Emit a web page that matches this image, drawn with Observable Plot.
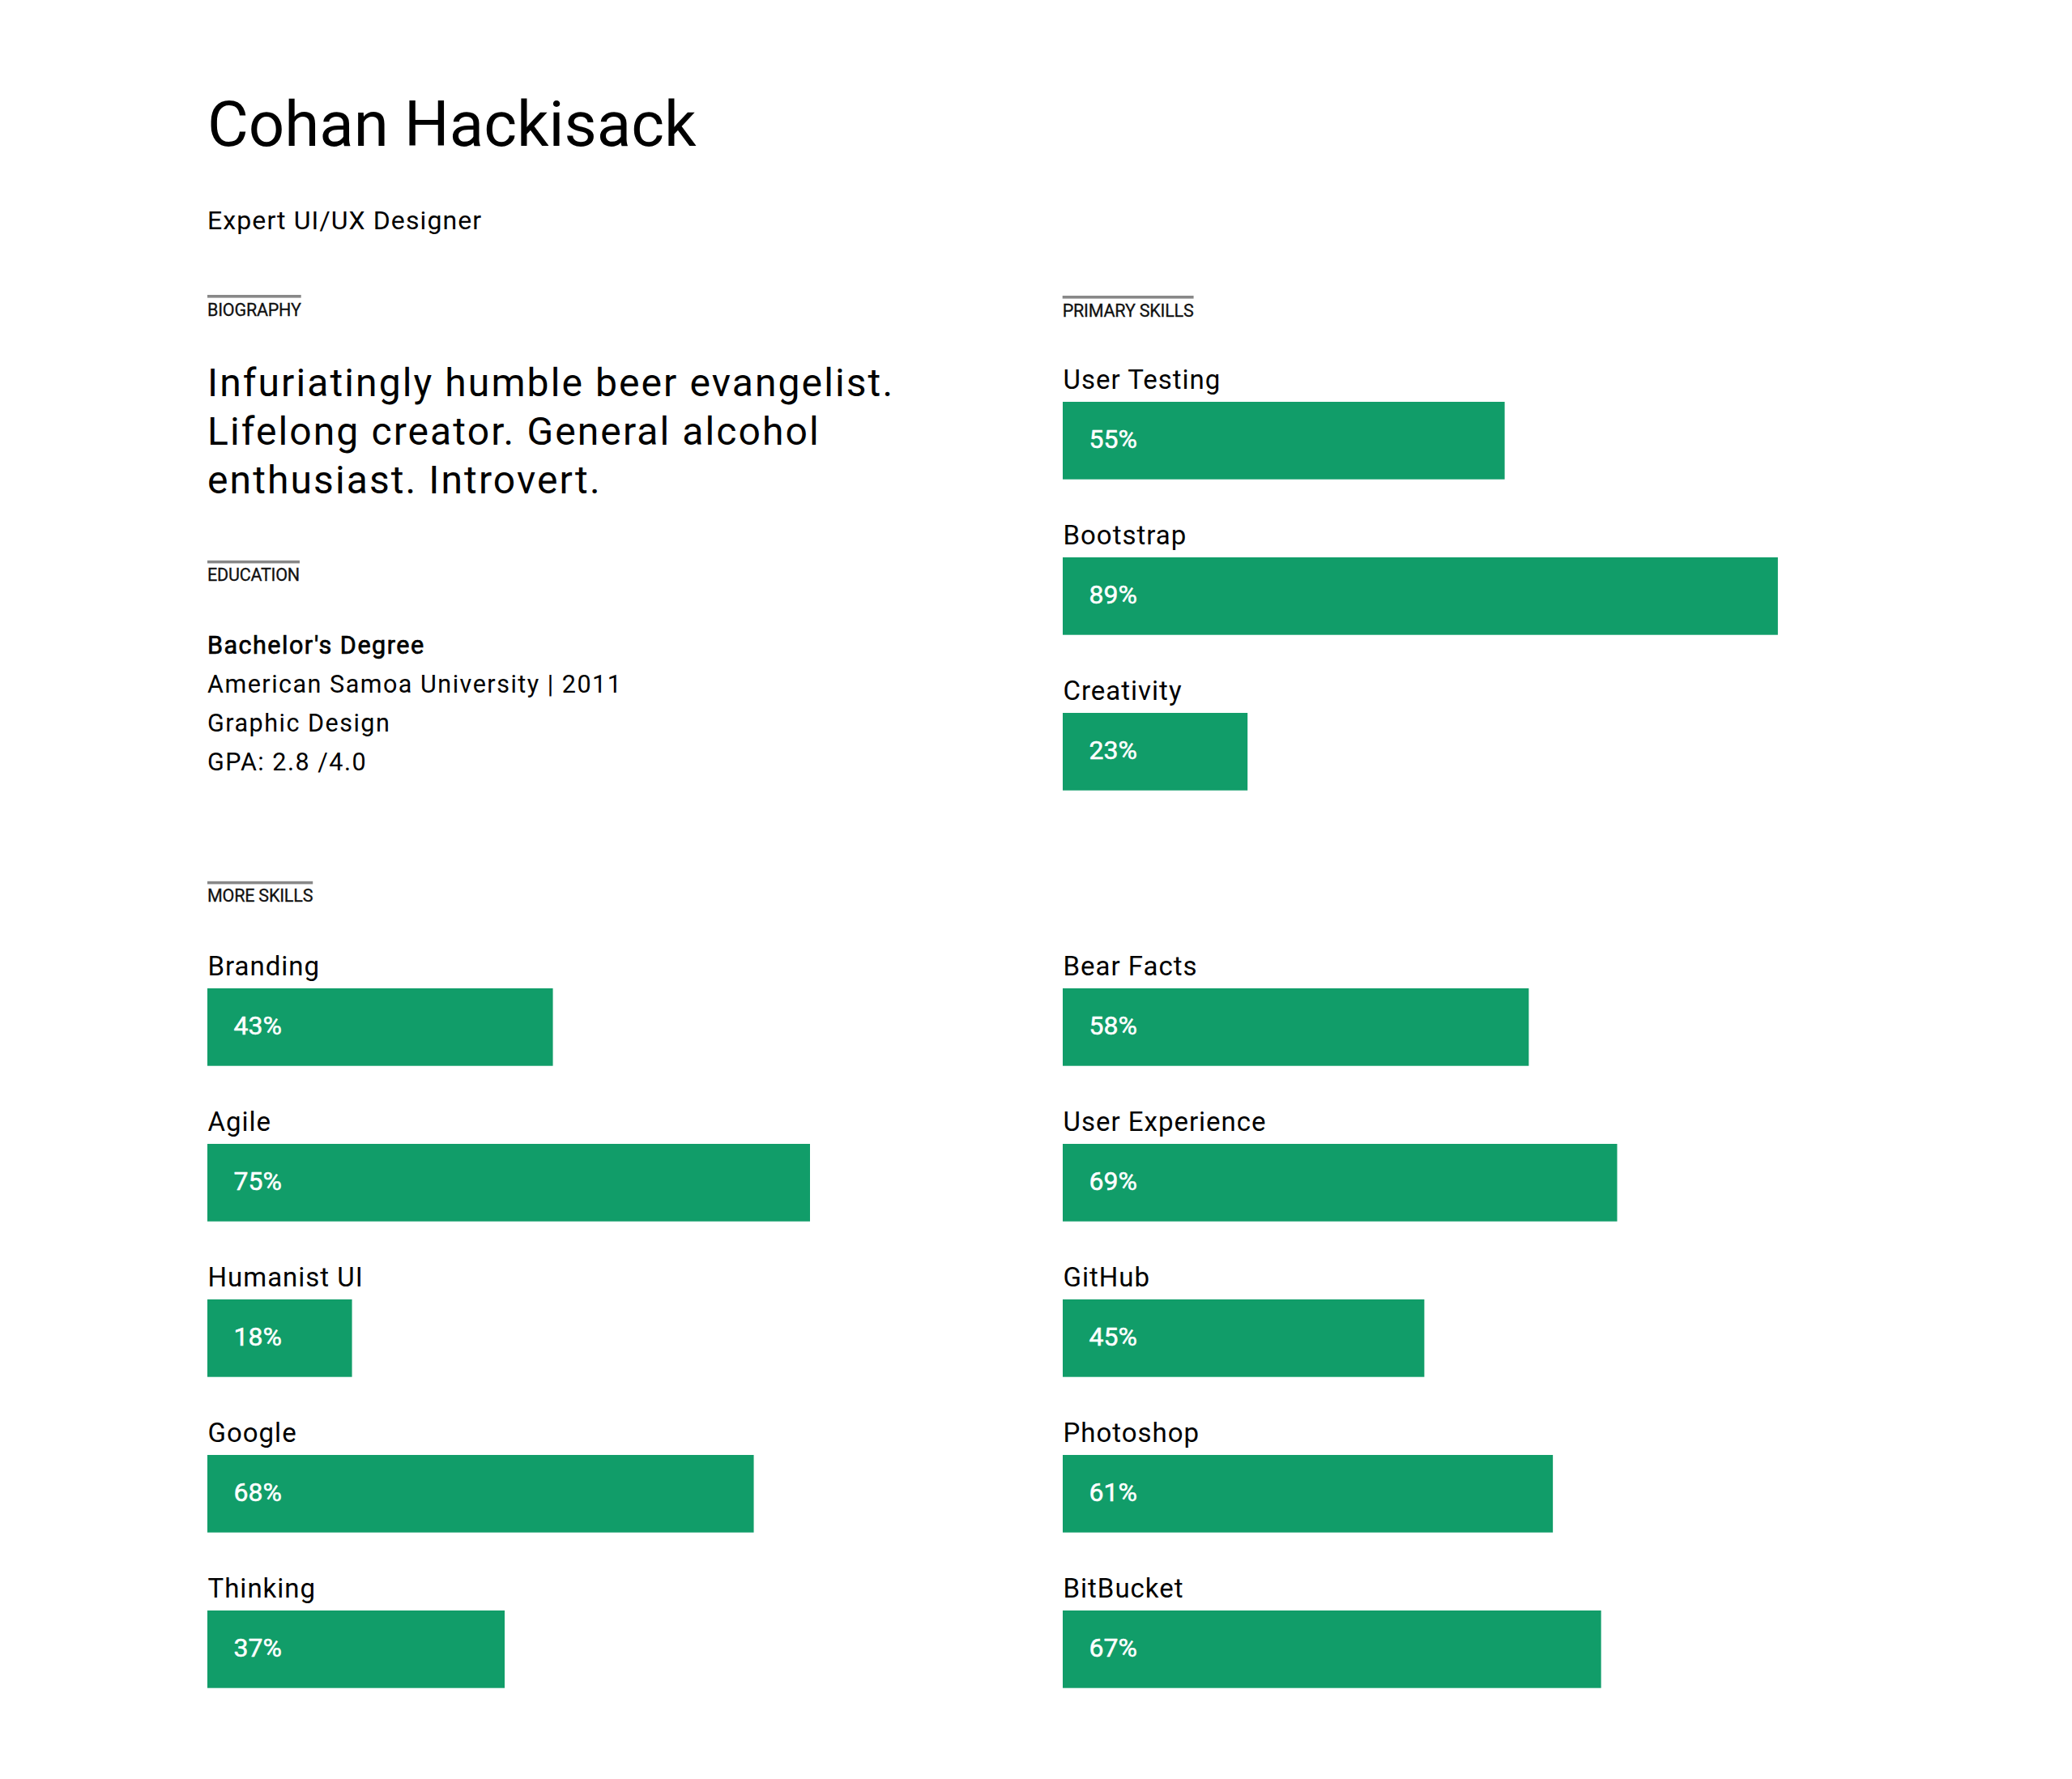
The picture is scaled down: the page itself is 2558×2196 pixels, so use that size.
<!DOCTYPE html>
<html>
<head>
<meta charset="utf-8">
<script src="https://cdn.jsdelivr.net/npm/d3@7"></script>
<script src="https://cdn.jsdelivr.net/npm/@observablehq/plot@0.6"></script>
<style>
  html, body { margin: 0; padding: 0; background: #fff; }
  body { width: 2558px; height: 2196px; position: relative; overflow: hidden;
         font-family: Roboto, "Noto Sans", sans-serif; color: #000; }
  #static { position: absolute; left: 0; top: 0; }
  .chart { position: absolute; width: 992px; }
  .chart svg { display: block; overflow: visible; }
</style>
</head>
<body>
<svg id="static" width="2558" height="1130" xmlns="http://www.w3.org/2000/svg"></svg>
<div class="chart" id="primary" style="left:1311.7px; top:440px;"></div>
<div class="chart" id="moreLeft" style="left:256px; top:1160px;"></div>
<div class="chart" id="moreRight" style="left:1311.7px; top:1160px;"></div>
<script>
// ---- data ----
const name = "Cohan Hackisack";
const role = "Expert UI/UX Designer";
const sectionTitles = ["BIOGRAPHY", "PRIMARY SKILLS", "EDUCATION", "MORE SKILLS"];
const bioLines = ["Infuriatingly humble beer evangelist.", "Lifelong creator. General alcohol", "enthusiast. Introvert."];
const educationLines = ["Bachelor's Degree", "American Samoa University | 2011", "Graphic Design", "GPA: 2.8 /4.0"];

const primarySkills = ["User Testing", "Bootstrap", "Creativity"];
const primaryValues = [55, 89, 23];
const moreSkillsLeft = ["Branding", "Agile", "Humanist UI", "Google", "Thinking"];
const moreValuesLeft = [43, 75, 18, 68, 37];
const moreSkillsRight = ["Bear Facts", "User Experience", "GitHub", "Photoshop", "BitBucket"];
const moreValuesRight = [58, 69, 45, 61, 67];

const GREEN = "#119d69";
const FONT = "Roboto, 'Noto Sans', sans-serif";

// ---- static text (header, biography, education) ----
const svg = d3.select("#static");
function txt(x, y, s, size, opts = {}) {
  const t = svg.append("text")
    .attr("x", x).attr("y", y)
    .attr("font-family", FONT)
    .attr("font-size", size)
    .attr("font-weight", opts.weight || 400)
    .attr("letter-spacing", opts.ls || 0)
    .attr("fill", opts.fill || "#000")
    .text(s);
  if (opts.stroke) t.attr("stroke", opts.fill || "#000").attr("stroke-width", opts.stroke);
  return t;
}
txt(256, 179.5, name, 78, {ls: 0});
txt(256, 283.3, role, 32, {ls: 1.1});

function heading(x, baseline, s) {
  const t = txt(x, baseline, s, 21.5, {fill: "#111", ls: -0.2, stroke: 0.3});
  const w = t.node().getComputedTextLength();
  svg.append("rect").attr("x", x).attr("y", baseline - 25.5)
    .attr("width", w).attr("height", 3.6).attr("fill", "#888");
}
heading(256, 389.5, sectionTitles[0]);
heading(1311.7, 390.5, sectionTitles[1]);
heading(256, 717.3, sectionTitles[2]);
heading(256, 1113.3, sectionTitles[3]);

bioLines.forEach((l, i) => txt(256, 488.8 + i * 60.2, l, 48, {ls: 2.1}));
educationLines.forEach((l, i) => txt(256, 807 + i * 48, l, 30.5,
  {ls: 1.5, stroke: i === 0 ? 0.7 : 0}));

// ---- skill bar charts ----
function skillChart(names, values, marginTop) {
  const data = names.map((n, i) => ({name: n, value: values[i]}));
  const step = 192, bw = 95.7;
  const rangeLen = (names.length - 1) * step + bw;
  return Plot.plot({
    width: 992,
    height: marginTop + rangeLen,
    marginLeft: 0, marginRight: 0, marginTop, marginBottom: 0,
    style: {fontFamily: FONT, background: "transparent", overflow: "visible"},
    x: {domain: [0, 100], axis: null},
    y: {domain: names, axis: null, paddingInner: 1 - bw / step, paddingOuter: 0, round: false},
    marks: [
      Plot.barX(data, {x: "value", y: "name", fill: GREEN}),
      Plot.text(data, {x: 0, y: "name", text: d => d.value + "%", fill: "#fff",
        stroke: "#fff", strokeWidth: 0.5,
        fontSize: 32, textAnchor: "start", dx: 32, dy: -2}),
      Plot.text(data, {x: 0, y: "name", text: "name", fill: "#000",
        fontSize: 33, textAnchor: "start", lineAnchor: "bottom", dy: -(bw / 2 + 16.4)})
    ]
  });
}
document.getElementById("primary").append(skillChart(primarySkills, primaryValues, 56));
document.getElementById("moreLeft").append(skillChart(moreSkillsLeft, moreValuesLeft, 60));
document.getElementById("moreRight").append(skillChart(moreSkillsRight, moreValuesRight, 60));
// label letter spacing (reference font is slightly wider)
d3.selectAll(".chart svg g[aria-label=text]:last-of-type text").attr("letter-spacing", 1);
</script>
</body>
</html>
